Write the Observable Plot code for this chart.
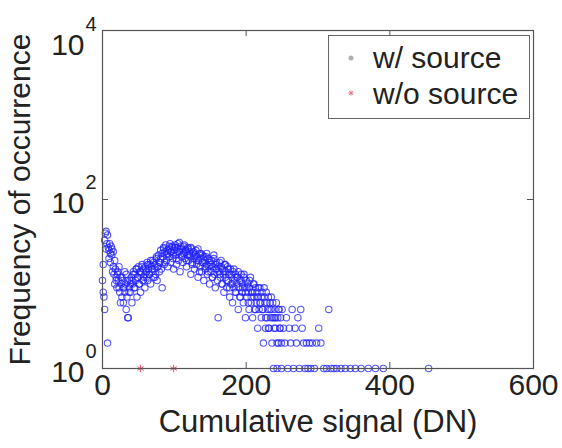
<!DOCTYPE html>
<html><head><meta charset="utf-8">
<script src="https://cdn.jsdelivr.net/npm/d3@7"></script>
<script src="https://cdn.jsdelivr.net/npm/@observablehq/plot@0.6"></script>
<style>
body{margin:0;background:#fff;}
#wrap{position:relative;width:562px;height:448px;font-family:"Liberation Sans",Arial,sans-serif;}
#legend{position:absolute;left:328px;top:35px;width:202px;height:84px;border:1px solid #666;background:#fff;box-sizing:border-box;}
</style></head><body><div id="wrap"></div>
<script>
// Frequency of occurrence with source, for DN = 0 .. 250 (one value per DN)
const withFreqMain = [
 11,17,7,5,40,42,30,2,27,25,30,23,28,22,14,24,13,10,15,12,
 9,14,11,9,8,12,10,7,11,6,9,8,10,13,7,4,4,9,11,8,
 12,6,10,14,9,13,11,15,7,12,16,10,14,8,13,17,11,15,12,9,
 16,14,18,11,15,13,17,10,16,14,19,12,15,17,13,20,11,16,22,14,
 18,25,15,9,21,27,17,24,29,19,23,16,26,21,30,18,24,28,20,15,
 25,29,22,17,27,30,19,24,14,28,21,26,18,23,29,20,25,16,22,27,
 19,24,21,13,26,18,23,20,15,22,25,17,21,12,19,23,16,20,14,22,
 18,11,19,15,21,17,13,20,16,10,18,14,19,12,16,20,13,9,17,15,
 11,4,14,18,12,16,10,15,13,8,17,12,14,9,16,11,13,7,15,10,
 12,6,14,9,11,13,8,10,12,5,9,11,7,13,8,10,6,12,9,4,
 11,7,10,8,5,9,12,6,8,4,10,7,5,9,6,8,3,7,5,9,
 6,4,8,5,2,7,6,3,8,4,5,7,3,6,4,5,2,6,1,4,
 5,3,6,1,4,2,5,3,4,1,5
];
// Second set of counts, for the odd DN values 1, 3, ... 249
const withFreqExtra = [
 8,33,26,38,20,18,26,16,19,11,
 13,16,6,12,9,14,5,11,8,10,
 11,13,9,15,12,10,14,16,11,13,
 12,17,13,19,15,18,12,21,16,18,
 20,23,26,18,22,25,28,24,27,22,
 27,20,24,31,26,22,28,24,19,26,
 22,27,17,24,21,19,26,14,23,18,
 21,16,23,14,19,17,12,22,15,18,
 16,13,19,10,14,17,11,15,9,13,
 10,15,8,12,14,7,11,9,13,8,
 9,6,11,7,8,10,5,7,9,6,
 7,5,9,4,6,3,5,7,4,3,
 4,2,5,3,2
];
const tailDN   = [252,254,256,258,260,262,264,266,268,270,272,274,276,278,280,282,284,286,288,290,292,295,298,301,304,308,312,315,318,322,326,332,338,345,352,360,370,380,391,454];
const tailFreq = [3,2,4,1,3,2,5,1,3,2,4,1,5,3,2,1,2,1,2,1,2,1,2,3,2,1,1,5,1,1,1,1,1,1,1,1,1,1,1,1];
// Without source
const noSrcDN   = [53, 99];
const noSrcFreq = [1, 1];
// Ticks
const xTicks = [0, 200, 400, 600];
const yTicks = [1, 100, 10000];
const yTickBase = ["10", "10", "10"];
const yTickExp = ["0", "2", "4"];

const withSrc = withFreqMain.map((f, i) => ({dn: i, f}))
  .concat(withFreqExtra.map((f, i) => ({dn: 2 * i + 1, f})))
  .concat(tailDN.map((dn, i) => ({dn, f: tailFreq[i]})));
const noSrc = noSrcDN.map((dn, i) => ({dn, f: noSrcFreq[i]}));
const yLab = yTicks.map((v, i) => ({v, b: yTickBase[i], e: yTickExp[i]}));

const W = 562, H = 448, mL = 102, mR = 29, mT = 30, mB = 80;
const fw = W - mL - mR, fh = H - mT - mB;
const axisColor = "#555";
const font = "Liberation Sans, Arial, sans-serif";
const isTop = d => d.v === yTicks[yTicks.length - 1];

const chart = Plot.plot({
  width: W, height: H,
  marginLeft: mL, marginRight: mR, marginTop: mT, marginBottom: mB,
  style: {background: "white", fontFamily: font},
  x: {domain: [0, 600], axis: null},
  y: {type: "log", domain: [1, 10000], axis: null},
  marks: [
    Plot.dot(withSrc, {x: "dn", y: "f", r: 3.2, stroke: "#2222ff", strokeOpacity: 0.75, strokeWidth: 1.1, fill: "none"}),
    Plot.dot(noSrc, {x: "dn", y: "f", r: 3.5, symbol: "asterisk", stroke: "#e0304a", strokeOpacity: 0.8, strokeWidth: 1}),
    Plot.frame({stroke: axisColor, strokeWidth: 1.2}),
    Plot.tickX(xTicks, {x: d => d, insetTop: fh - 6, stroke: axisColor}),
    Plot.tickX(xTicks, {x: d => d, insetBottom: fh - 6, stroke: axisColor}),
    Plot.tickY(yTicks, {y: d => d, insetRight: fw - 6, stroke: axisColor}),
    Plot.tickY(yTicks, {y: d => d, insetLeft: fw - 6, stroke: axisColor}),
    Plot.text(xTicks, {x: d => d, frameAnchor: "bottom", dy: 26, text: d => String(d), fontSize: 30, fill: "#222"}),
    Plot.text(yLab, {filter: d => !isTop(d), y: "v", frameAnchor: "left", dx: -18, dy: 4, text: "b", textAnchor: "end", fontSize: 30, fill: "#222"}),
    Plot.text(yLab, {filter: d => !isTop(d), y: "v", frameAnchor: "left", dx: -17, dy: -17, text: "e", textAnchor: "start", fontSize: 20, fill: "#222"}),
    Plot.text(yLab, {filter: isTop, y: "v", frameAnchor: "left", dx: -18, dy: 15, text: "b", textAnchor: "end", fontSize: 30, fill: "#222"}),
    Plot.text(yLab, {filter: isTop, y: "v", frameAnchor: "left", dx: -17, dy: -6, text: "e", textAnchor: "start", fontSize: 20, fill: "#222"}),
    Plot.text(["Cumulative signal (DN)"], {frameAnchor: "bottom", dy: 63, fontSize: 31, fill: "#222"}),
    Plot.text(["Frequency of occurrence"], {frameAnchor: "left", dx: -82, rotate: -90, textAnchor: "middle", fontSize: 30, fill: "#222"})
  ]
});
const wrap = document.getElementById("wrap");
wrap.appendChild(chart);

// Legend
const leg = document.createElement("div");
leg.id = "legend";
leg.innerHTML = `<svg width="200" height="82" style="font-family:${font}">
  <circle cx="22" cy="22" r="2.5" fill="#b0b0b0"/>
  <text x="44" y="32" font-size="30" fill="#222">w/ source</text>
  <g transform="translate(22,57)" stroke="#e87080" stroke-width="1">
    <line x1="-2.5" y1="0" x2="2.5" y2="0"/><line x1="0" y1="-2.5" x2="0" y2="2.5"/>
    <line x1="-1.8" y1="-1.8" x2="1.8" y2="1.8"/><line x1="-1.8" y1="1.8" x2="1.8" y2="-1.8"/>
  </g>
  <text x="44" y="68" font-size="30" fill="#222">w/o source</text>
</svg>`;
wrap.appendChild(leg);
</script></body></html>
